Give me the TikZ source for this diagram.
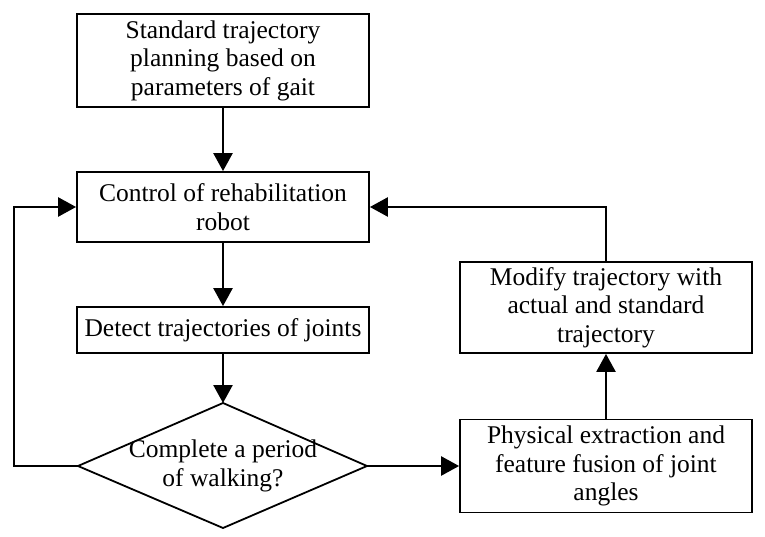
\documentclass[tikz,border=0pt]{standalone}
\usepackage{fontspec}
\setmainfont{Liberation Serif}
\usetikzlibrary{arrows.meta}
\begin{document}
\begin{tikzpicture}[x=1pt,y=-1pt,
  every node/.style={font=\fontsize{25.5}{28.5}\selectfont, align=center, inner sep=0pt},
  box/.style={draw, line width=1.8pt, minimum width=292pt},
  conn/.style={line width=2.5pt, -{Triangle[width=19pt,length=18pt]}}]
\useasboundingbox (0,0) rectangle (765,537);
\node[box, minimum height=93pt] (plan) at (223,60.5) {Standard trajectory\\planning based on\\parameters of gait};
\node[box, minimum height=70pt] (ctrl) at (223,207) {Control of rehabilitation\\robot};
\node[box, minimum height=46pt] (detect) at (223,330) {Detect trajectories of joints};
\node (dtext) at (223,466) {Complete a period\\of walking?};
\coordinate (dt) at (223,403);
\coordinate (db) at (223,528);
\coordinate (dl) at (78,466);
\coordinate (dr) at (367,466);
\draw[line width=1.8pt, line join=miter] (dt) -- (dr) -- (db) -- (dl) -- cycle;
\node[box, minimum height=93pt] (phys) at (606,466) {Physical extraction and\\feature fusion of joint\\angles};
\node[box, minimum height=91pt] (mod) at (606,307.5) {Modify trajectory with\\actual and standard\\trajectory};
\coordinate (lc) at (14,466);
\coordinate (rc) at (606,207);
\draw[conn] (plan) -- (ctrl);
\draw[conn] (ctrl) -- (detect);
\draw[conn] (detect) -- (dt);
\draw[conn] (dr) -- (phys.west);
\draw[conn] (phys) -- (mod);
\draw[conn] (mod.north) -- (rc) -- (ctrl.east);
\draw[conn] (dl) -- (lc) |- (ctrl.west);
\end{tikzpicture}
\end{document}
